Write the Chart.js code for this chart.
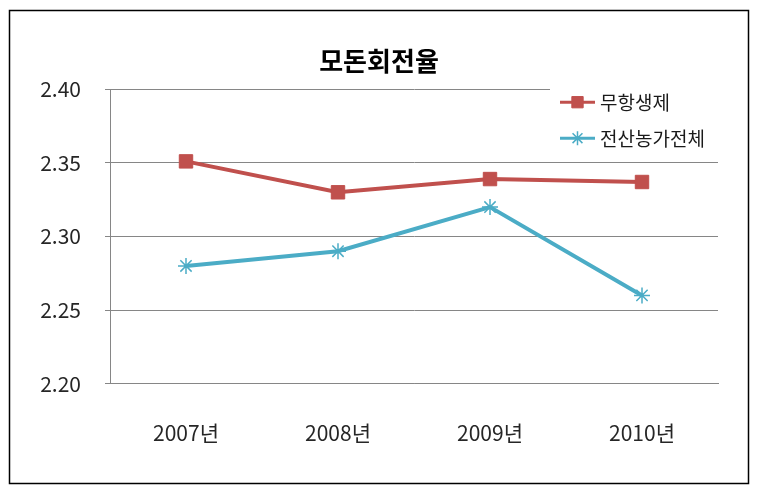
<!DOCTYPE html>
<html>
<head>
<meta charset="utf-8">
<script src="https://cdn.jsdelivr.net/npm/chart.js@4/dist/chart.umd.min.js"></script>
<style>
  html, body { margin: 0; padding: 0; background: #fff; }
  #wrap { position: relative; width: 766px; height: 496px; }
</style>
</head>
<body>
<div id="wrap"><canvas id="c" width="766" height="496"></canvas></div>
<script>
const chartTitle = '모돈회전율';
const categories = ['2007년', '2008년', '2009년', '2010년'];
const seriesNames = ['무항생제', '전산농가전체'];
const organicValues = [2.351, 2.330, 2.339, 2.337];
const allFarmValues = [2.280, 2.290, 2.320, 2.260];
const yMin = 2.20, yMax = 2.40, yStep = 0.05;

const RED = '#C0504D';
const BLUE = '#4BACC6';
const GRID = '#868686';
const NUM_FONT = "'Noto Sans CJK KR', sans-serif";
const KR_FONT = "'Noto Sans CJK KR', sans-serif";

const insideLegend = {
  id: 'insideLegend',
  afterDatasetsDraw(chart) {
    const ctx = chart.ctx;
    const a = chart.chartArea;
    ctx.save();
    ctx.fillStyle = '#fff';
    ctx.fillRect(a.right - 168, a.top - 9, 170, 66);
    chart.data.datasets.forEach((ds, i) => {
      const y = a.top + 13 + i * 36;
      const x0 = a.right - 158, x1 = a.right - 123;
      ctx.strokeStyle = ds.borderColor;
      ctx.lineWidth = 3;
      ctx.beginPath(); ctx.moveTo(x0, y); ctx.lineTo(x1, y); ctx.stroke();
      ctx.fillStyle = ds.pointBackgroundColor;
      ctx.strokeStyle = ds.pointBorderColor;
      ctx.lineWidth = ds.pointBorderWidth;
      Chart.helpers.drawPoint(ctx, {
        pointStyle: ds.pointStyle,
        radius: ds.pointStyle === 'rect' ? 8 : 7,
        borderWidth: ds.pointBorderWidth,
        rotation: 0
      }, (x0 + x1) / 2, y);
      ctx.fillStyle = '#1a1a1a';
      ctx.font = "19px " + KR_FONT;
      ctx.textAlign = 'left';
      ctx.textBaseline = 'middle';
      ctx.fillText(ds.label, x1 + 5, y + 1);
    });
    ctx.restore();
  },
  afterDraw(chart) {
    const ctx = chart.ctx;
    ctx.save();
    ctx.strokeStyle = '#000';
    ctx.lineWidth = 1.5;
    ctx.strokeRect(9.5, 10.5, 739, 473);
    ctx.restore();
  }
};

new Chart(document.getElementById('c'), {
  type: 'line',
  data: {
    labels: categories,
    datasets: [
      {
        label: seriesNames[0],
        data: organicValues,
        borderColor: RED,
        backgroundColor: RED,
        borderWidth: 4,
        pointStyle: 'rect',
        pointRadius: 9.5,
        pointBackgroundColor: RED,
        pointBorderColor: RED,
        pointBorderWidth: 1,
        tension: 0,
        yAxisID: 'y'
      },
      {
        label: seriesNames[1],
        data: allFarmValues,
        borderColor: BLUE,
        backgroundColor: BLUE,
        borderWidth: 4,
        pointStyle: 'star',
        pointRadius: 8,
        pointBackgroundColor: BLUE,
        pointBorderColor: BLUE,
        pointBorderWidth: 1.5,
        tension: 0,
        yAxisID: 'y'
      }
    ]
  },
  options: {
    responsive: false,
    animation: false,
    devicePixelRatio: 1,
    layout: { padding: { left: 10, right: 18, top: 0, bottom: 13 } },
    plugins: {
      legend: { display: false },
      tooltip: { enabled: false },
      title: {
        display: true,
        text: chartTitle,
        color: '#000',
        font: { family: KR_FONT, size: 26, weight: 'bold', lineHeight: 1.2 },
        padding: { top: 46, bottom: 12 }
      }
    },
    scales: {
      x: {
        offset: true,
        grid: { display: false, drawTicks: false },
        border: { display: true, color: GRID, width: 1 },
        ticks: {
          color: '#262626',
          font: { family: NUM_FONT, size: 21, lineHeight: 1.2 },
          padding: 37,
          maxRotation: 0
        }
      },
      y: {
        min: yMin,
        max: yMax,
        grid: { color: GRID, lineWidth: 1, drawTicks: true, tickLength: 5 },
        border: { display: true, color: GRID, width: 1 },
        ticks: {
          stepSize: yStep,
          color: '#262626',
          font: { family: NUM_FONT, size: 21, lineHeight: 1.2 },
          padding: 24,
          callback: (v) => Number(v).toFixed(2)
        },
        afterFit: (s) => { s.width = 100; }
      },
      y2: {
        position: 'right',
        display: true,
        grid: { display: false, drawTicks: false },
        border: { display: false },
        ticks: { display: false },
        afterFit: (s) => { s.width = 30; }
      }
    }
  },
  plugins: [insideLegend]
});
</script>
</body>
</html>
